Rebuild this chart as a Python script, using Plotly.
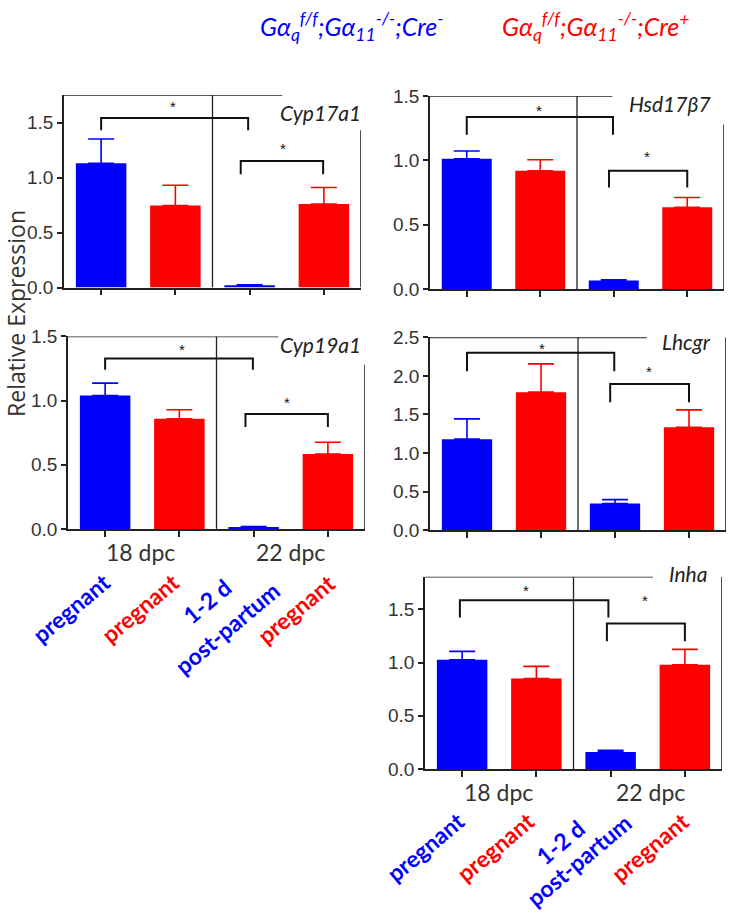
import plotly.graph_objects as go

W, H = 730, 922

# ---------------- data ----------------
categories = ["18 dpc Cre- pregnant", "18 dpc Cre+ pregnant",
              "22 dpc Cre- 1-2 d post-partum", "22 dpc Cre+ pregnant"]
genes = ["Cyp17a1", "Hsd17\u03b27", "Cyp19a1", "Lhcgr", "Inha"]

cyp17a1_mean = [1.13, 0.745, 0.02, 0.76]
cyp17a1_sem = [0.22, 0.185, 0.005, 0.15]
hsd17b7_mean = [1.013, 0.92, 0.068, 0.636]
hsd17b7_sem = [0.06, 0.085, 0.005, 0.076]
cyp19a1_mean = [1.04, 0.858, 0.015, 0.584]
cyp19a1_sem = [0.096, 0.07, 0.004, 0.091]
lhcgr_mean = [1.18, 1.79, 0.345, 1.333]
lhcgr_sem = [0.263, 0.366, 0.051, 0.227]
inha_mean = [1.026, 0.851, 0.16, 0.98]
inha_sem = [0.079, 0.113, 0.015, 0.144]

means = [cyp17a1_mean, hsd17b7_mean, cyp19a1_mean, lhcgr_mean, inha_mean]
sems = [cyp17a1_sem, hsd17b7_sem, cyp19a1_sem, lhcgr_sem, inha_sem]
y_max = [1.75, 1.5, 1.5, 2.5, 1.806]

group_ticks = ["18 dpc", "22 dpc"]
bar_labels = ["pregnant", "pregnant", "1-2 d", "post-partum", "pregnant"]
legend_labels = ["G\u03b1<sub>q</sub><sup>f/f</sup>;G\u03b1<sub>11</sub><sup>-/-</sup>;Cre<sup>-</sup>",
                 "G\u03b1<sub>q</sub><sup>f/f</sup>;G\u03b1<sub>11</sub><sup>-/-</sup>;Cre<sup>+</sup>"]

BLUE = "#0000ff"
RED = "#ff0000"
colors = [BLUE, RED, BLUE, RED]

# ---------------- layout geometry (pixels) ----------------
# (left, right, top, bottom)
boxes = [(64, 361, 87, 284), (430, 724, 88, 285.7), (68, 365, 334, 531),
         (430, 726, 335, 532.3), (425, 722, 580, 776.7)]
top_line_end = [2.44, 1.98, 2.38, 2.43, 2.57]
right_line_start = [1.43, 1.278, 1.279, 2.5, 1.806]
# brackets: (x0, x1, ybar, yleg)
brackets = [
    [(0, 1.98, 1.54, 1.43), (1.88, 2.99, 1.15, 1.03)],
    [(0, 1.99, 1.336, 1.2), (1.935, 3.0, 0.92, 0.79)],
    [(0, 1.99, 1.327, 1.24), (1.89, 3.0, 0.896, 0.794)],
    [(0, 1.99, 2.3, 2.06), (1.935, 3.0, 1.894, 1.66)],
    [(-0.03, 1.97, 1.586, 1.423), (1.95, 3.0, 1.368, 1.2)],
]
stars = [
    [(0.97, 1.67), (2.45, 1.29)],
    [(0.98, 1.41), (2.45, 1.05)],
    [(1.03, 1.42), (2.45, 1.005)],
    [(1.02, 2.4), (2.46, 2.1)],
    [(0.86, 1.71), (2.46, 1.61)],
]
gene_pos = [(363, 105), (713, 96), (363, 342), (713, 339), (709, 577)]


def px(x):
    return x / W


def py(y):
    return 1 - y / H


fig = go.Figure()
shapes = []
annotations = []
xpos = list(range(len(categories)))

for i in range(5):
    n = "" if i == 0 else str(i + 1)
    xa, ya = "x" + n, "y" + n
    l, r, t, b = boxes[i]
    for c in range(len(categories)):
        fig.add_trace(go.Bar(
            x=[xpos[c]], y=[means[i][c]], width=0.68,
            marker=dict(color=colors[c], line=dict(width=0)),
            error_y=dict(type="data", symmetric=False, array=[sems[i][c]],
                         arrayminus=[0], color=colors[c], thickness=1.6, width=13),
            xaxis=xa, yaxis=ya, showlegend=False, name=categories[c]))
    fig.layout["xaxis" + n] = dict(
        domain=[px(l), px(r)], range=[-0.5, 3.5], anchor=ya,
        showline=True, linecolor="#222", linewidth=1.6, mirror=False,
        ticks="outside", ticklen=6, tickwidth=1.6, tickcolor="#222",
        tickvals=xpos, showticklabels=False, showgrid=False, zeroline=False)
    fig.layout["yaxis" + n] = dict(
        domain=[py(b), py(t)], range=[0, y_max[i]], anchor=xa,
        showline=True, linecolor="#222", linewidth=1.6,
        ticks="outside", ticklen=5, tickwidth=1.6, tickcolor="#222",
        dtick=0.5, tick0=0, tickformat=".1f", showgrid=False, zeroline=False,
        tickfont=dict(family="Liberation Sans Narrow, Arial Narrow, Liberation Sans",
                      size=19, color="#333"))
    line = dict(color="#222", width=1.6)
    shapes.append(dict(type="line", xref=xa, yref=ya, x0=-0.5, x1=top_line_end[i],
                       y0=y_max[i], y1=y_max[i], line=line))
    shapes.append(dict(type="line", xref=xa, yref=ya, x0=3.5, x1=3.5,
                       y0=0, y1=right_line_start[i], line=line))
    shapes.append(dict(type="line", xref=xa, yref=ya, x0=1.5, x1=1.5,
                       y0=0, y1=y_max[i], line=dict(color="#222", width=1.3)))
    for (x0, x1, yb, yl) in brackets[i]:
        shapes.append(dict(type="path", xref=xa, yref=ya,
                           path=f"M {x0},{yl} L {x0},{yb} L {x1},{yb} L {x1},{yl}",
                           line=dict(color="#111", width=2)))
    for (sx, sy) in stars[i]:
        annotations.append(dict(xref=xa, yref=ya, x=sx, y=sy, text="*", showarrow=False,
                                xanchor="center", yanchor="middle", yshift=-3,
                                font=dict(family="Liberation Sans", size=15, color="#111")))
    gx, gy = gene_pos[i]
    annotations.append(dict(xref="paper", yref="paper", x=px(gx), y=py(gy),
                            text="<i>" + genes[i] + "</i>", showarrow=False,
                            xanchor="right", yanchor="middle", bgcolor="white",
                            font=dict(family="Lato", size=21, color="#222")))

# group tick labels under bottom panels
group_pos = [[(140, 555), (290, 555)], [(498, 800), (650, 800)]]
for gp in group_pos:
    for k, (cx, cy) in enumerate(gp):
        annotations.append(dict(xref="paper", yref="paper", x=px(cx), y=py(cy),
                                text=group_ticks[k], showarrow=False,
                                xanchor="center", yanchor="middle",
                                font=dict(family="Lato", size=23, color="#333")))

# rotated condition labels
label_colors = [BLUE, RED, BLUE, BLUE, RED]
label_pos = [[(71, 612), (140, 612), (207, 605), (227, 632), (296, 613)],
             [(425, 856), (495, 856), (560, 851), (579, 870), (650, 857)]]
for lp in label_pos:
    for k, (cx, cy) in enumerate(lp):
        annotations.append(dict(xref="paper", yref="paper", x=px(cx), y=py(cy),
                                text="<b>" + bar_labels[k] + "</b>", showarrow=False,
                                textangle=-40, xanchor="center", yanchor="middle",
                                font=dict(family="Lato", size=23, color=label_colors[k])))

# genotype legend at top
for k, (cx, col) in enumerate([(351, BLUE), (595, RED)]):
    annotations.append(dict(xref="paper", yref="paper", x=px(cx), y=py(17),
                            text="<i>" + legend_labels[k] + "</i>", showarrow=False,
                            xanchor="center", yanchor="middle",
                            font=dict(family="Lato", size=25, color=col)))

# y-axis title
annotations.append(dict(xref="paper", yref="paper", x=px(16), y=py(311),
                        text="Relative Expression", showarrow=False, textangle=-90,
                        xanchor="center", yanchor="middle",
                        font=dict(family="Open Sans", size=23, color="#333")))

fig.update_layout(width=W, height=H, margin=dict(l=0, r=0, t=0, b=0),
                  plot_bgcolor="white", paper_bgcolor="white", barmode="overlay",
                  shapes=shapes, annotations=annotations, showlegend=False)

fig.write_html("out.html", config={"displayModeBar": False},
               post_script="document.body.style.margin='0px';document.body.style.overflow='hidden';")
